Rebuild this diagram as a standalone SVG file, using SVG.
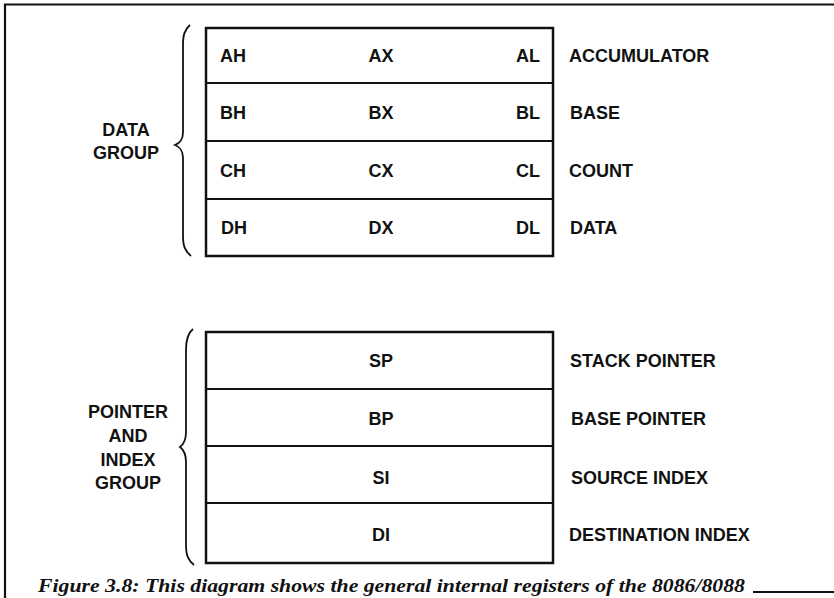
<svg xmlns="http://www.w3.org/2000/svg" width="834" height="598" viewBox="0 0 834 598">
<style>
.t{font-family:"Liberation Sans",Arial,sans-serif;font-weight:bold;font-size:18px;fill:#111}
.m{text-anchor:middle}
.r{text-anchor:end}
.box{fill:none;stroke:#111;stroke-width:2.5}
.div{stroke:#111;stroke-width:2.2}
.brace{fill:none;stroke:#111;stroke-width:1.8}
.cap{font-family:"Liberation Serif","Times New Roman",serif;font-weight:bold;font-style:italic;font-size:19px;fill:#111}
</style>
<rect width="834" height="598" fill="#fff"/>
<g id="frame">
<path d="M5,598 V4.5 H834" fill="none" stroke="#111" stroke-width="2.2"/>
</g>
<g id="data-group">
<path class="brace" d="M190,25 C184,30 183,36 183,46 V132 C183,140 180,143 175,145 C180,147 183,150 183,158 V236 C183,246 185,251 191,256"/>
<text class="t m" x="126" y="136">DATA</text>
<text class="t m" x="126" y="159">GROUP</text>
</g>
<g id="data-registers">
<rect class="box" x="206" y="28" width="347" height="228"/>
<line class="div" x1="206" y1="83" x2="553" y2="83"/>
<line class="div" x1="206" y1="141" x2="553" y2="141"/>
<line class="div" x1="206" y1="199" x2="553" y2="199"/>
</g>
<g id="ax">
<text class="t" x="220" y="62">AH</text>
<text class="t m" x="381" y="62">AX</text>
<text class="t r" x="540" y="62">AL</text>
<text class="t" x="569" y="62">ACCUMULATOR</text>
</g>
<g id="bx">
<text class="t" x="220" y="119">BH</text>
<text class="t m" x="381" y="119">BX</text>
<text class="t r" x="540" y="119">BL</text>
<text class="t" x="570" y="119">BASE</text>
</g>
<g id="cx">
<text class="t" x="220" y="177">CH</text>
<text class="t m" x="381" y="177">CX</text>
<text class="t r" x="540" y="177">CL</text>
<text class="t" x="569" y="177">COUNT</text>
</g>
<g id="dx">
<text class="t" x="221" y="234">DH</text>
<text class="t m" x="381" y="234">DX</text>
<text class="t r" x="540" y="234">DL</text>
<text class="t" x="570" y="234">DATA</text>
</g>
<g id="pointer-group">
<path class="brace" d="M193,329 C188,333 186,339 186,350 V432 C186,440 184,444 180,447 C184,450 186,454 186,462 V545 C186,555 188,560 194,565"/>
<text class="t m" x="128" y="418">POINTER</text>
<text class="t m" x="128" y="442">AND</text>
<text class="t m" x="128" y="466">INDEX</text>
<text class="t m" x="128" y="489">GROUP</text>
</g>
<g id="pointer-registers">
<rect class="box" x="206" y="332" width="347" height="231"/>
<line class="div" x1="206" y1="389" x2="553" y2="389"/>
<line class="div" x1="206" y1="446" x2="553" y2="446"/>
<line class="div" x1="206" y1="503" x2="553" y2="503"/>
</g>
<g id="sp">
<text class="t m" x="381" y="367">SP</text>
<text class="t" x="570" y="367">STACK POINTER</text>
</g>
<g id="bp">
<text class="t m" x="381" y="425">BP</text>
<text class="t" x="571" y="425">BASE POINTER</text>
</g>
<g id="si">
<text class="t m" x="381" y="484">SI</text>
<text class="t" x="571" y="484">SOURCE INDEX</text>
</g>
<g id="di">
<text class="t m" x="381" y="541">DI</text>
<text class="t" x="569" y="541">DESTINATION INDEX</text>
</g>
<g id="caption">
<text class="cap" x="38" y="592" textLength="707" lengthAdjust="spacingAndGlyphs">Figure 3.8: This diagram shows the general internal registers of the 8086/8088</text>
<line x1="753" y1="592" x2="834" y2="592" stroke="#111" stroke-width="2"/>
</g>
</svg>
